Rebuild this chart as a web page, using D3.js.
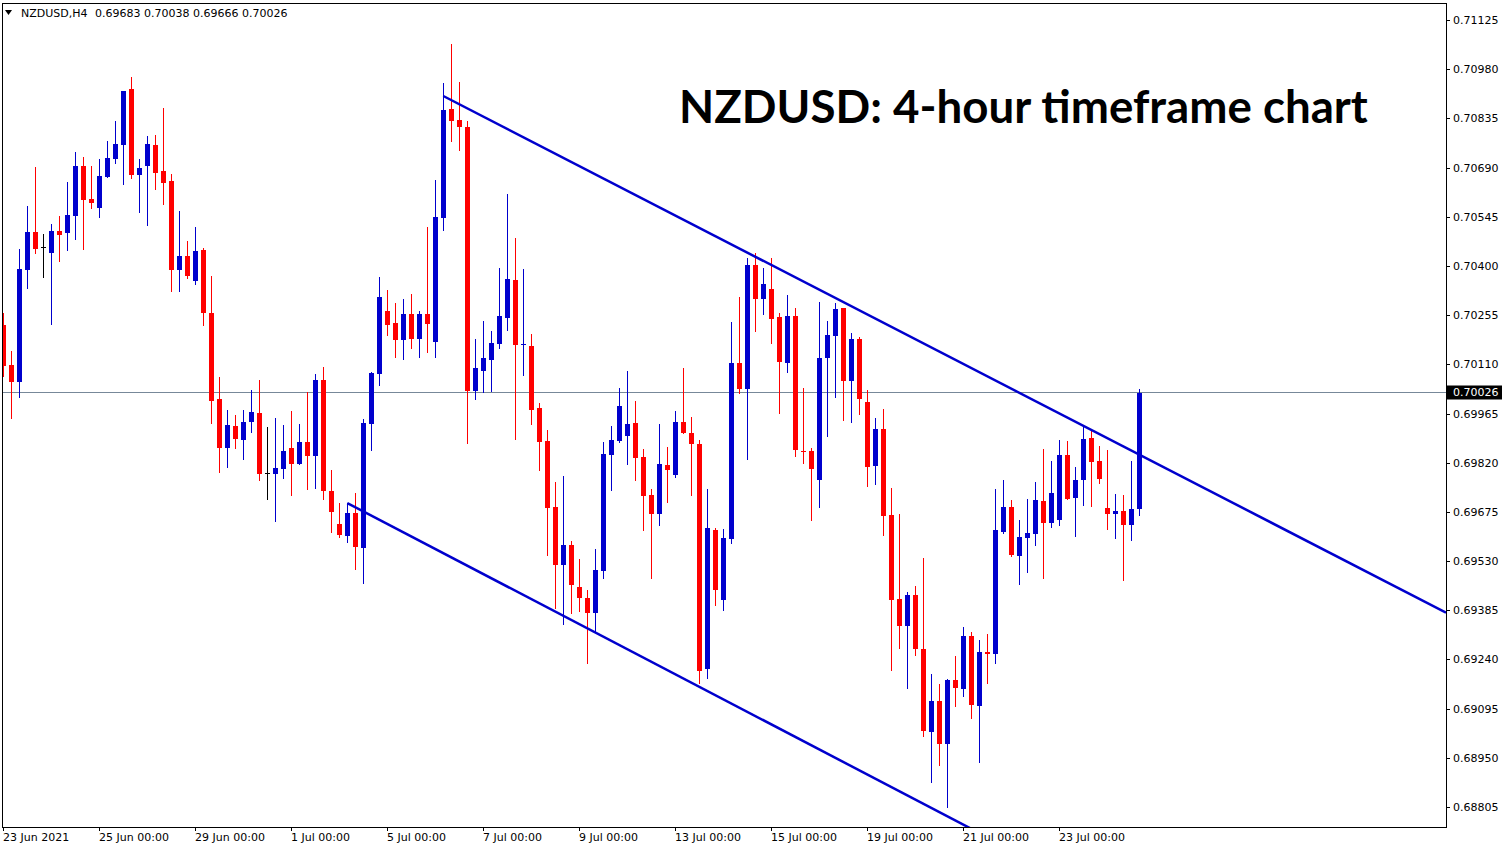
<!DOCTYPE html>
<html><head><meta charset="utf-8">
<script src="https://cdn.jsdelivr.net/npm/d3@7"></script>
<style>html,body{margin:0;padding:0;background:#fff;overflow:hidden}</style>
</head><body><svg id="c" width="1510" height="850"></svg>
<script>
// ---- DATA (NZDUSD H4 candles) ----
const open = [0.70226,0.70108,0.70058,0.70388,0.70500,0.70456,0.70438,0.70503,0.70497,0.70547,
0.70695,0.70597,0.70571,0.70662,0.70715,0.70756,0.70922,0.70668,0.70695,0.70756,
0.70680,0.70650,0.70388,0.70429,0.70356,0.70447,0.70261,0.70008,0.69863,0.69928,
0.69887,0.69940,0.69966,0.69790,0.69787,0.69801,0.69863,0.69816,0.69881,0.69840,
0.70064,0.69736,0.69639,0.69604,0.69672,0.69568,0.69934,0.70081,0.70267,0.70232,
0.70182,0.70258,0.70185,0.70258,0.70176,0.70541,0.70863,0.70830,0.70810,0.70031,
0.70090,0.70123,0.70170,0.70246,0.70358,0.70167,0.70164,0.69981,0.69884,0.69689,
0.69518,0.69577,0.69454,0.69421,0.69377,0.69501,0.69843,0.69884,0.69899,0.69937,
0.69837,0.69725,0.69669,0.69813,0.69784,0.69940,0.69907,0.69875,0.69212,0.69622,
0.69415,0.69595,0.70114,0.70037,0.70403,0.70302,0.70332,0.70249,0.70114,0.70252,
0.69854,0.69854,0.69769,0.70129,0.70193,0.70276,0.70061,0.70185,0.69999,0.69810,
0.69919,0.69666,0.69418,0.69338,0.69430,0.69271,0.69026,0.69117,0.68991,0.69179,
0.69153,0.69309,0.69103,0.69262,0.69256,0.69616,0.69689,0.69545,0.69598,0.69610,
0.69707,0.69642,0.69651,0.69843,0.69716,0.69769,0.69893,0.69825,0.69686,0.69669,
0.69678,0.69636,0.69683];
const high = [0.70261,0.70149,0.70450,0.70577,0.70692,0.70494,0.70524,0.70547,0.70647,0.70736,
0.70721,0.70695,0.70715,0.70768,0.70827,0.70916,0.70957,0.70715,0.70783,0.70786,
0.70866,0.70671,0.70562,0.70473,0.70515,0.70453,0.70370,0.70073,0.69975,0.69961,
0.69975,0.70034,0.70064,0.69925,0.69952,0.69931,0.69972,0.69934,0.70028,0.70081,
0.70102,0.69798,0.69701,0.69701,0.69731,0.69949,0.70087,0.70367,0.70329,0.70291,
0.70302,0.70317,0.70267,0.70515,0.70653,0.70939,0.71054,0.70942,0.70827,0.70185,
0.70238,0.70208,0.70394,0.70612,0.70482,0.70391,0.70199,0.69996,0.69916,0.69763,
0.69781,0.69589,0.69536,0.69445,0.69565,0.69881,0.69928,0.70040,0.70090,0.70002,
0.69860,0.69742,0.69934,0.69866,0.69972,0.70099,0.69955,0.69887,0.69742,0.69627,
0.69624,0.70235,0.70308,0.70423,0.70438,0.70394,0.70423,0.70261,0.70314,0.70276,
0.70040,0.69863,0.70294,0.70238,0.70291,0.70276,0.70202,0.70191,0.70034,0.69952,
0.69978,0.69745,0.69669,0.69439,0.69456,0.69539,0.69197,0.69167,0.69182,0.69250,
0.69336,0.69321,0.69297,0.69315,0.69742,0.69769,0.69710,0.69651,0.69713,0.69763,
0.69860,0.69825,0.69887,0.69884,0.69807,0.69925,0.69913,0.69869,0.69857,0.69728,
0.69725,0.69825,0.70038];
const low = [0.70075,0.69952,0.70014,0.70335,0.70438,0.70367,0.70229,0.70415,0.70447,0.70479,
0.70450,0.70571,0.70544,0.70662,0.70703,0.70641,0.70659,0.70559,0.70521,0.70627,
0.70583,0.70326,0.70326,0.70364,0.70347,0.70226,0.69937,0.69792,0.69807,0.69863,
0.69831,0.69910,0.69769,0.69713,0.69648,0.69775,0.69725,0.69816,0.69742,0.69745,
0.69713,0.69616,0.69601,0.69586,0.69507,0.69465,0.69857,0.70049,0.70196,0.70131,
0.70126,0.70158,0.70131,0.70146,0.70131,0.70506,0.70768,0.70742,0.69878,0.70008,
0.70028,0.70031,0.70158,0.70211,0.69890,0.70078,0.69934,0.69798,0.69548,0.69392,
0.69344,0.69377,0.69383,0.69229,0.69321,0.69480,0.69739,0.69881,0.69816,0.69769,
0.69622,0.69480,0.69636,0.69704,0.69778,0.69907,0.69725,0.69170,0.69185,0.69400,
0.69386,0.69583,0.70025,0.69831,0.70208,0.70258,0.70173,0.69966,0.70087,0.69840,
0.69819,0.69651,0.69689,0.69899,0.70014,0.69946,0.69940,0.69963,0.69751,0.69757,
0.69607,0.69209,0.69274,0.69156,0.69253,0.69014,0.68879,0.68929,0.68805,0.69103,
0.69132,0.69067,0.68938,0.69170,0.69229,0.69613,0.69545,0.69462,0.69498,0.69577,
0.69480,0.69630,0.69636,0.69713,0.69604,0.69695,0.69692,0.69760,0.69624,0.69598,
0.69474,0.69592,0.69666];
const close = [0.70105,0.70058,0.70391,0.70500,0.70450,0.70456,0.70503,0.70491,0.70550,0.70695,
0.70594,0.70585,0.70665,0.70718,0.70759,0.70916,0.70668,0.70689,0.70759,0.70674,
0.70644,0.70388,0.70429,0.70370,0.70444,0.70261,0.70002,0.69863,0.69931,0.69890,
0.69940,0.69969,0.69787,0.69790,0.69804,0.69854,0.69816,0.69881,0.69840,0.70064,
0.69736,0.69675,0.69607,0.69672,0.69571,0.69937,0.70084,0.70308,0.70226,0.70182,
0.70258,0.70185,0.70258,0.70229,0.70544,0.70860,0.70827,0.70810,0.70031,0.70099,
0.70129,0.70173,0.70252,0.70361,0.70167,0.70170,0.69975,0.69881,0.69686,0.69518,
0.69577,0.69459,0.69421,0.69377,0.69504,0.69846,0.69887,0.69987,0.69934,0.69834,
0.69722,0.69669,0.69816,0.69798,0.69940,0.69907,0.69875,0.69206,0.69627,0.69445,
0.69598,0.70114,0.70037,0.70403,0.70302,0.70347,0.70243,0.70117,0.70252,0.69857,
0.69851,0.69801,0.70129,0.70196,0.70273,0.70061,0.70185,0.70008,0.69807,0.69919,
0.69663,0.69415,0.69338,0.69430,0.69271,0.69029,0.69117,0.68991,0.69179,0.69156,
0.69309,0.69106,0.69262,0.69256,0.69622,0.69689,0.69548,0.69601,0.69613,0.69710,
0.69642,0.69731,0.69843,0.69713,0.69769,0.69890,0.69822,0.69772,0.69669,0.69678,
0.69636,0.69683,0.70026];

const priceTicks = [0.71125,0.70980,0.70835,0.70690,0.70545,0.70400,0.70255,0.70110,
0.69965,0.69820,0.69675,0.69530,0.69385,0.69240,0.69095,0.68950,0.68805];
const timeTickIndex = [0,12,24,36,48,60,72,84,96,108,120,132];
const timeTickLabels = ["23 Jun 2021","25 Jun 00:00","29 Jun 00:00","1 Jul 00:00","5 Jul 00:00",
"7 Jul 00:00","9 Jul 00:00","13 Jul 00:00","15 Jul 00:00","19 Jul 00:00","21 Jul 00:00","23 Jul 00:00"];
// trend lines: two anchor points each (bar index, price)
const upperTrendIndex = [55,180];
const upperTrendPrice = [0.70901,0.69382];
const lowerTrendIndex = [43,117];
const lowerTrendPrice = [0.69701,0.68790];
const symbol = "NZDUSD,H4";
const title = "NZDUSD: 4-hour timeframe chart";

// ---- LAYOUT ----
const L=2, R=1446, T=3, B=827;
const BLUE="#0000CD", RED="#FF0000";
const svg=d3.select("#c");
svg.append("rect").attr("width",1510).attr("height",850).attr("fill","#fff");

const n=open.length;
const x=d3.scaleLinear().domain([0,n-1]).range([3.3,3.3+8*(n-1)]);
const y=d3.scaleLinear().domain([0.68805,0.71125]).range([807,20]);

svg.append("defs").append("clipPath").attr("id","plot")
  .append("rect").attr("x",L+1).attr("y",T+1).attr("width",R-L-1).attr("height",B-T-1);
const plot=svg.append("g").attr("clip-path","url(#plot)");

// close price line
const cy=Math.round(y(close[n-1]))-0.5;
plot.append("line").attr("x1",L).attr("x2",R).attr("y1",cy).attr("y2",cy)
  .attr("stroke","#778899").attr("stroke-width",1);

// candles
const idx=d3.range(n);
const col=i=>close[i]>open[i]?BLUE:(close[i]<open[i]?RED:"#000");
const cg=plot.append("g");
cg.selectAll("line.w").data(idx).join("line").attr("class","w")
  .attr("x1",i=>Math.round(x(i))+0.5).attr("x2",i=>Math.round(x(i))+0.5)
  .attr("y1",i=>Math.round(y(high[i]))).attr("y2",i=>Math.round(y(low[i]))+1)
  .attr("stroke",col).attr("stroke-width",1).attr("shape-rendering","crispEdges");
cg.selectAll("rect.b").data(idx).join("rect").attr("class","b")
  .attr("x",i=>Math.round(x(i))-2).attr("width",5)
  .attr("y",i=>Math.round(y(Math.max(open[i],close[i]))))
  .attr("height",i=>Math.max(1,Math.round(y(Math.min(open[i],close[i])))-Math.round(y(Math.max(open[i],close[i])))))
  .attr("fill",col).attr("shape-rendering","crispEdges");

// trend lines (rays extended to the right edge)
function ray(ix,pr){
  const s=(pr[1]-pr[0])/(ix[1]-ix[0]);
  const iEnd=x.invert(R);
  return [[x(ix[0]),y(pr[0])],[x(iEnd),y(pr[0]+s*(iEnd-ix[0]))]];
}
[[upperTrendIndex,upperTrendPrice],[lowerTrendIndex,lowerTrendPrice]].forEach(([ix,pr])=>{
  const p=ray(ix,pr);
  plot.append("line").attr("x1",p[0][0]).attr("y1",p[0][1]).attr("x2",p[1][0]).attr("y2",p[1][1])
    .attr("stroke",BLUE).attr("stroke-width",2.5);
});

// frame
svg.append("rect").attr("x",L+0.5).attr("y",T+0.5).attr("width",R-L).attr("height",B-T)
  .attr("fill","none").attr("stroke","#000").attr("stroke-width",1).attr("shape-rendering","crispEdges");

// price axis
const font="DejaVu Sans, Verdana, sans-serif";
const pa=svg.append("g");
priceTicks.forEach(p=>{
  const yy=Math.round(y(p))+0.5;
  pa.append("line").attr("x1",R).attr("x2",R+4).attr("y1",yy).attr("y2",yy).attr("stroke","#000");
  pa.append("text").attr("x",1453).attr("y",yy).attr("dy","0.36em").attr("font-family",font)
    .attr("font-size",11).attr("fill","#000").text(p.toFixed(5));
});
// current price label
pa.append("rect").attr("x",R+1).attr("y",cy-7).attr("width",55).attr("height",14).attr("fill","#000");
pa.append("text").attr("x",1453).attr("y",cy).attr("dy","0.36em").attr("font-family",font)
  .attr("font-size",11).attr("fill","#fff").text(close[n-1].toFixed(5));

// time axis
const ta=svg.append("g");
timeTickIndex.forEach((ti,k)=>{
  const xx=Math.round(x(ti))+0.5;
  ta.append("line").attr("x1",xx).attr("x2",xx).attr("y1",B).attr("y2",B+4).attr("stroke","#000");
  ta.append("text").attr("x",Math.round(x(ti))).attr("y",841).attr("font-family",font)
    .attr("font-size",11).attr("fill","#000").text(timeTickLabels[k]);
});

// header
svg.append("path").attr("d","M5,10L12,10L8.5,15Z").attr("fill","#000");
svg.append("text").attr("x",21).attr("y",17).attr("font-family",font).attr("font-size",11)
  .attr("fill","#000").text(symbol);
svg.append("text").attr("x",95).attr("y",17).attr("font-family",font).attr("font-size",11)
  .attr("fill","#000").text([open[n-1],high[n-1],low[n-1],close[n-1]].map(v=>v.toFixed(5)).join(" "));

// title
const tt=svg.append("text").attr("x",679).attr("y",123).attr("font-family","Lato, 'Open Sans', sans-serif")
  .attr("font-weight",700).attr("font-size",48).attr("fill","#000").text(title);
const w=tt.node().getComputedTextLength();
tt.attr("font-size",48*689/w);
</script></body></html>
